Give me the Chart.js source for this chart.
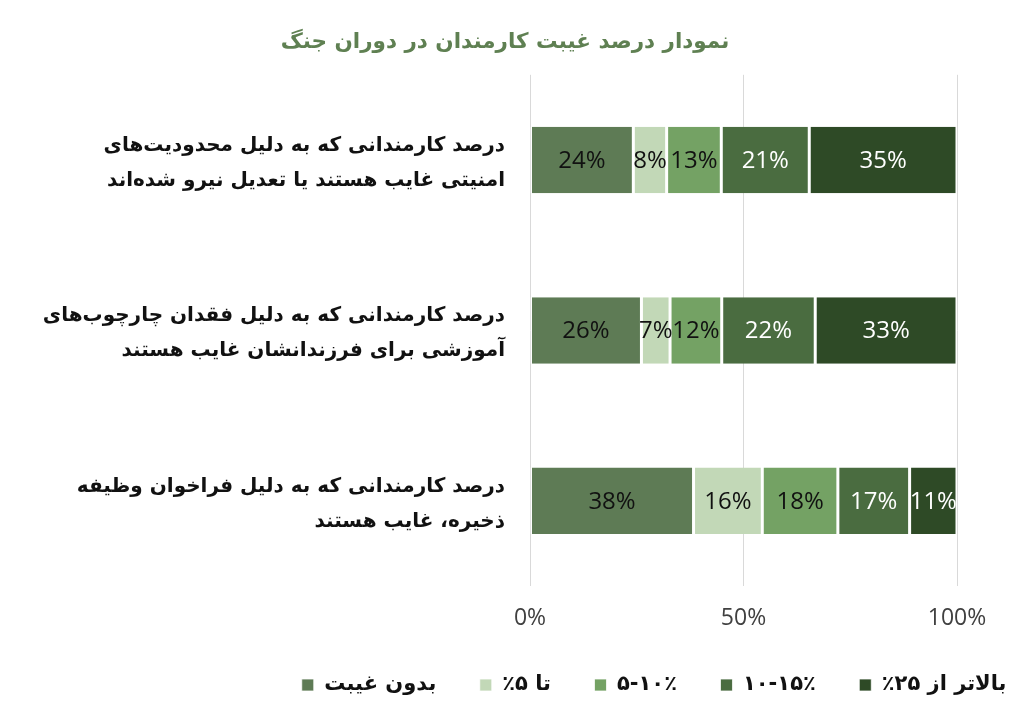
<!DOCTYPE html>
<html lang="fa">
<head>
<meta charset="utf-8">
<title>نمودار درصد غیبت کارمندان در دوران جنگ</title>
<script src="https://cdn.jsdelivr.net/npm/chart.js@4.4.1/dist/chart.umd.min.js"></script>
<style>
  html, body { margin: 0; padding: 0; background: #fff; }
  #wrap { width: 1010px; height: 718px; position: relative; }
  canvas { direction: rtl; }
</style>
</head>
<body>
<div id="wrap"><canvas id="chart"></canvas></div>
<script>
const TITLE = 'نمودار درصد غیبت کارمندان در دوران جنگ';
const categories = [
  ['درصد کارمندانی که به دلیل محدودیت‌های', 'امنیتی غایب هستند یا تعدیل نیرو شده‌اند'],
  ['درصد کارمندانی که به دلیل فقدان چارچوب‌های', 'آموزشی برای فرزندانشان غایب هستند'],
  ['درصد کارمندانی که به دلیل فراخوان وظیفه', 'ذخیره، غایب هستند'],
];
// range labels are forced left-to-right so they read "۵-۱۰٪" as in the source
const seriesNames = ['بدون غیبت', 'تا ۵٪', '\u202D۵-۱۰٪\u202C', '\u202D۱۰-۱۵٪\u202C', 'بالاتر از ۲۵٪'];
const noAbsence = [24.2, 26.1, 38.3];
const upTo5 = [7.8, 6.7, 16.1];
const from5to10 = [12.8, 12.1, 17.7];
const from10to15 = [20.6, 21.9, 16.8];
const over25 = [34.6, 33.2, 11.1];
const xTicks = [0, 50, 100];

const colors = ['#5e7b55', '#c2d8b7', '#74a264', '#4a6c40', '#2e4a26'];
const labelColors = ['#111', '#111', '#111', '#fff', '#fff'];
const FA = "'DejaVu Sans', sans-serif";
const NUM = "'Open Sans', 'Noto Sans', sans-serif";

const series = [noAbsence, upTo5, from5to10, from10to15, over25];

const barLabels = {
  id: 'barLabels',
  afterDatasetsDraw(chart) {
    const ctx = chart.ctx;
    ctx.save();
    ctx.font = '24px ' + NUM;
    ctx.textAlign = 'center';
    ctx.textBaseline = 'middle';
    chart.data.datasets.forEach((ds, i) => {
      chart.getDatasetMeta(i).data.forEach((bar, j) => {
        ctx.fillStyle = labelColors[i];
        ctx.fillText(Math.round(ds.data[j]) + '%', (bar.x + bar.base) / 2, bar.y + 1);
      });
    });
    ctx.restore();
  }
};

new Chart(document.getElementById('chart'), {
  type: 'bar',
  data: {
    labels: categories,
    datasets: series.map((data, i) => ({
      label: seriesNames[i],
      data,
      backgroundColor: colors[i],
      borderColor: '#fff',
      borderWidth: { left: 1.5, right: 1.5, top: 0, bottom: 0 },
      borderSkipped: false,
      barPercentage: 0.39,
      categoryPercentage: 1,
    })),
  },
  plugins: [barLabels],
  options: {
    indexAxis: 'y',
    responsive: true,
    maintainAspectRatio: false,
    animation: false,
    // negative sides let the title stay centred while the legend runs to the right edge
    layout: { padding: { left: -40, right: -40, top: 0, bottom: 12.5 } },
    plugins: {
      title: {
        display: true,
        text: TITLE,
        color: '#5f8052',
        font: { family: FA, size: 21.5, weight: 'bold' },
        padding: { top: 30, bottom: 19 },
      },
      legend: {
        position: 'bottom',
        align: 'end',
        textDirection: 'rtl',
        labels: {
          color: '#111',
          font: { family: FA, size: 21, weight: 'bold' },
          boxWidth: 12,
          boxHeight: 12,
          padding: 43.5,
        },
      },
      tooltip: { enabled: false },
    },
    scales: {
      x: {
        stacked: true,
        min: 0,
        max: 100,
        afterBuildTicks: s => { s.ticks = xTicks.map(v => ({ value: v })); },
        afterFit: s => { s.height = 45; },
        grid: { color: '#d9d9d9', drawTicks: false },
        border: { display: false },
        ticks: {
          padding: 19,
          color: '#404040',
          font: { family: NUM, size: 23 },
          callback: v => v + '%',
        },
      },
      y: {
        stacked: true,
        afterFit: s => { s.width = 570; },
        grid: { display: false, drawTicks: false },
        border: { display: false },
        ticks: {
          padding: 25,
          labelOffset: 3,
          color: '#111',
          font: { family: FA, size: 20, weight: 'bold', lineHeight: 1.75 },
        },
      },
      pad: {
        type: 'linear',
        position: 'right',
        afterFit: s => { s.width = 93; },
        grid: { display: false },
        border: { display: false },
        ticks: { display: false },
      },
    },
  },
});
</script>
</body>
</html>
